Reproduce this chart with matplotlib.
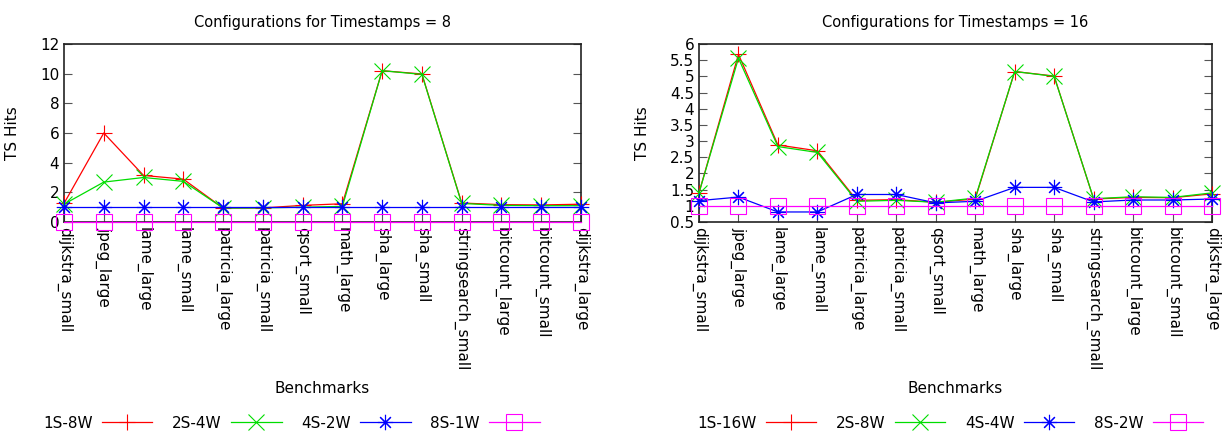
"""
TS hits per benchmark for two timestamp configurations (gnuplot-style look)
"""
import matplotlib
matplotlib.use('Agg')
import matplotlib.pyplot as plt
from matplotlib.lines import Line2D

benchmarks = ['dijkstra_small', 'jpeg_large', 'lame_large', 'lame_small',
              'patricia_large', 'patricia_small', 'qsort_small', 'math_large',
              'sha_large', 'sha_small', 'stringsearch_small', 'bitcount_large',
              'bitcount_small', 'dijkstra_large']

# Timestamps = 8
labels_8 = ['1S-8W', '2S-4W', '4S-2W', '8S-1W']
ts8_1s8w = [1.25, 6.0, 3.14, 2.89, 0.94, 0.95, 1.12, 1.23, 10.2, 9.98, 1.28, 1.17, 1.15, 1.2]
ts8_2s4w = [1.2, 2.69, 3.0, 2.74, 0.94, 0.95, 1.0, 1.05, 10.2, 9.95, 1.25, 1.12, 1.1, 1.1]
ts8_4s2w = [1.0, 1.0, 1.0, 1.0, 1.0, 1.0, 1.0, 1.0, 1.0, 1.0, 1.0, 1.0, 1.0, 1.0]
ts8_8s1w = [0, 0, 0, 0, 0, 0, 0, 0, 0, 0, 0, 0, 0, 0]

# Timestamps = 16
labels_16 = ['1S-16W', '2S-8W', '4S-4W', '8S-2W']
ts16_1s16w = [1.4, 5.68, 2.88, 2.7, 1.17, 1.19, 1.11, 1.21, 5.15, 5.01, 1.21, 1.26, 1.25, 1.37]
ts16_2s8w = [1.4, 5.56, 2.83, 2.65, 1.14, 1.17, 1.11, 1.24, 5.15, 5.0, 1.22, 1.28, 1.26, 1.4]
ts16_4s4w = [1.16, 1.27, 0.81, 0.81, 1.35, 1.35, 1.09, 1.14, 1.57, 1.57, 1.12, 1.18, 1.18, 1.21]
ts16_8s2w = [1.0, 1.0, 1.0, 1.0, 1.0, 1.0, 1.0, 1.0, 1.0, 1.0, 1.0, 1.0, 1.0, 1.0]

colors = ['#ff0000', '#00dd00', '#0000ff', '#ff00ff']
markers = ['+', 'x', (8, 2, 0), 's']
msizes = [12, 12, 11, 11]

plt.rcParams['font.family'] = ['DejaVu Sans']
plt.rcParams['font.size'] = 10


def draw(ax, series, labels, title, ylim, yticks, ytick_labels, leg_x):
    x = list(range(len(benchmarks)))
    for vals, lab, c, m, ms in zip(series, labels, colors, markers, msizes):
        ax.plot(x, vals, color=c, linewidth=0.9, marker=m, markersize=ms,
                markerfacecolor='none', markeredgecolor=c, markeredgewidth=0.8,
                label=lab, clip_on=False, zorder=3)
    ax.set_xlim(0, len(benchmarks) - 1)
    ax.set_ylim(*ylim)
    ax.set_yticks(yticks)
    ax.set_yticklabels(ytick_labels, fontsize=11)
    ax.set_xticks(x)
    ax.set_xticklabels(benchmarks, rotation=-90, fontsize=11, va='top', ha='center')
    ax.tick_params(axis='both', direction='in', length=6, color='#555555')
    ax.tick_params(axis='y', right=True)
    ax.set_title(title, fontsize=10.5, pad=12)
    ax.set_ylabel('TS Hits', fontsize=11, labelpad=14)
    ax.set_xlabel('Benchmarks', fontsize=11, labelpad=8)
    for s in ax.spines.values():
        s.set_linewidth(1.2)
        s.set_color('#222222')

    handles = [Line2D([], [], color=c, linewidth=0.9, marker=m, markersize=ms,
                      markerfacecolor='none', markeredgecolor=c, markeredgewidth=0.8)
               for c, m, ms in zip(colors, markers, msizes)]
    ax.legend(handles, labels, loc='center', bbox_to_anchor=(leg_x, -1.13),
              ncol=4, frameon=False, markerfirst=False, handlelength=3.3,
              columnspacing=1.3, handletextpad=0.6, fontsize=11)


fig = plt.figure(figsize=(12.22, 4.47), dpi=100)
ax1 = fig.add_axes([64 / 1222, 1 - 222 / 447, (581 - 64) / 1222, (222 - 44) / 447])
ax2 = fig.add_axes([699 / 1222, 1 - 222 / 447, (1212 - 699) / 1222, (222 - 44) / 447])

draw(ax1, [ts8_1s8w, ts8_2s4w, ts8_4s2w, ts8_8s1w], labels_8,
     'Configurations for Timestamps = 8', (0, 12),
     [0, 2, 4, 6, 8, 10, 12], ['0', '2', '4', '6', '8', '10', '12'], 0.44)

yt16 = [0.5, 1, 1.5, 2, 2.5, 3, 3.5, 4, 4.5, 5, 5.5, 6]
draw(ax2, [ts16_1s16w, ts16_2s8w, ts16_4s4w, ts16_8s2w], labels_16,
     'Configurations for Timestamps = 16', (0.5, 6),
     yt16, [f'{v:g}' for v in yt16], 0.49)

plt.savefig('out.png', dpi=100)
